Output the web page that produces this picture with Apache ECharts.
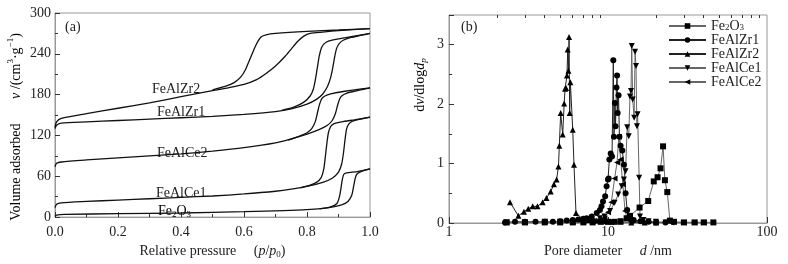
<!DOCTYPE html>
<html>
<head>
<meta charset="utf-8">
<script src="https://cdn.jsdelivr.net/npm/echarts@6/dist/echarts.min.js"></script>
<style>html,body{margin:0;background:#fff}#main{width:788px;height:264px}</style>
</head>
<body>
<div id="main"></div>
<script>
var FONT = 'Liberation Serif';

// (a) isotherms: [p/p0, volume] pairs, adsorption and desorption branches
var zr2Ads = [[0,132],[0.005,140],[0.02,145],[0.1,152],[0.2,160],[0.3,168],[0.4,177],[0.5,186],[0.55,190],[0.6,195],[0.64,202],[0.67,211],[0.7,222],[0.73,236],[0.75,247],[0.77,258],[0.79,266],[0.81,270],[0.85,272],[0.9,274],[1.0,277]];
var zr2Des = [[0.5,187],[0.54,192],[0.57,198],[0.59,206],[0.605,217],[0.615,228],[0.625,239],[0.635,250],[0.645,259],[0.655,265],[0.67,268],[0.7,270],[0.8,273],[0.9,275],[1.0,277]];
var zr1Ads = [[0,130],[0.005,135],[0.02,138],[0.1,140],[0.2,142],[0.3,144],[0.4,146],[0.5,148],[0.6,151],[0.7,155],[0.75,159],[0.8,166],[0.83,173],[0.85,181],[0.865,192],[0.875,205],[0.882,220],[0.888,236],[0.894,248],[0.902,255],[0.915,260],[0.94,264],[0.97,267],[1.0,270]];
var zr1Des = [[0.72,157],[0.76,162],[0.79,169],[0.81,178],[0.82,188],[0.827,203],[0.833,220],[0.839,237],[0.846,249],[0.855,255],[0.87,259],[0.9,262],[0.95,266],[1.0,270]];
var ce2Ads = [[0,74],[0.005,79],[0.02,81],[0.1,84],[0.2,87],[0.3,90],[0.4,93],[0.5,97],[0.6,102],[0.7,109],[0.75,115],[0.8,122],[0.84,129],[0.865,135],[0.88,142],[0.89,152],[0.897,164],[0.903,173],[0.91,178],[0.925,182],[0.96,186],[1.0,190]];
var ce2Des = [[0.74,113],[0.77,118],[0.8,124],[0.815,130],[0.826,140],[0.833,153],[0.84,166],[0.847,174],[0.857,178],[0.875,181],[0.92,185],[1.0,190]];
var ce1Ads = [[0,14],[0.005,19],[0.02,21],[0.1,23],[0.2,25],[0.3,27],[0.4,29],[0.5,31],[0.6,34],[0.7,38],[0.75,41],[0.8,45],[0.85,51],[0.88,57],[0.9,66],[0.91,78],[0.916,95],[0.921,115],[0.926,130],[0.933,137],[0.945,141],[0.97,144],[1.0,147]];
var ce1Des = [[0.78,43],[0.81,47],[0.83,51],[0.845,58],[0.853,70],[0.858,88],[0.863,108],[0.868,124],[0.875,133],[0.885,137],[0.91,140],[0.95,143],[1.0,147]];
var feAds = [[0,1],[0.005,3],[0.03,4],[0.2,5],[0.4,6],[0.6,8],[0.8,11],[0.87,14],[0.91,18],[0.93,23],[0.942,32],[0.948,45],[0.953,57],[0.958,63],[0.968,66],[0.985,69],[1.0,71]];
var feDes = [[0.84,12],[0.875,15],[0.895,20],[0.903,30],[0.908,43],[0.912,55],[0.917,63],[0.925,65],[0.96,67],[1.0,71]];

// (b) pore size distribution: diameter (nm) and dV/dlogd
var feD = [2.3,3,4,5,6,7,8,9,10,11,12,13.1,13.75,15.8,17.9,19.4,20.5,21.4,22.2,22.8,23.6,24.5,26,30,35,40,46];
var feV = [0.01,0.01,0.01,0.01,0.01,0.01,0.01,0.02,0.02,0.02,0.03,0.08,0.12,0.26,0.37,0.70,0.77,0.92,1.29,0.72,0.52,0.04,0.02,0.01,0.01,0.01,0.01];
var zr1D = [2.25,2.6,3,3.5,4,4.5,5,5.5,6,6.5,7,7.34,7.9,8.5,8.9,9.1,9.3,9.6,9.8,10.0,10.1,10.2,10.4,10.6,10.8,10.9,11.05,11.15,11.3,11.4,11.5,11.65,11.8,12.0,12.3,12.6,12.9,13.2,13.7,14.5,16,18,20,23];
var zr1V = [0.01,0.02,0.02,0.02,0.02,0.02,0.03,0.04,0.05,0.06,0.07,0.08,0.11,0.17,0.22,0.28,0.36,0.45,0.62,0.73,0.75,1.07,1.17,1.12,2.74,1.45,2.02,1.63,2.28,2.48,1.85,2.15,1.45,1.30,1.22,0.98,0.50,0.22,0.10,0.05,0.03,0.02,0.01,0.01];
var zr2D = [2.42,2.73,2.96,3.15,3.36,3.6,3.88,4.1,4.36,4.57,4.75,4.88,4.94,5.04,5.19,5.3,5.37,5.45,5.52,5.58,5.64,5.69,5.74,5.8,6.0,6.11,6.29,6.9,7.6,8.5,9.5,10.5,12,14,17,20];
var zr2V = [0.35,0.12,0.19,0.24,0.28,0.28,0.35,0.42,0.53,0.65,0.73,0.95,1.30,1.85,1.49,2.01,2.26,2.27,2.48,2.92,2.56,3.13,1.85,2.37,1.57,0.98,0.17,0.07,0.05,0.04,0.03,0.02,0.02,0.01,0.01,0.01];
var ce1D = [2.3,3,4,5,6,7,8,8.9,9.5,10.3,11.0,11.6,12.2,12.6,12.9,13.2,13.5,13.75,13.95,14.1,14.3,14.6,14.8,15.0,15.2,15.35,15.7,15.9,16.7,18,20,23];
var ce1V = [0.01,0.01,0.02,0.02,0.02,0.02,0.03,0.08,0.11,0.20,0.34,0.48,0.62,0.73,0.87,1.61,1.46,2.13,2.22,2.98,2.08,1.77,2.88,2.64,1.63,1.83,0.76,0.11,0.05,0.03,0.02,0.01];
var ce2D = [2.3,3,4,5,6,7,8,9,9.5,10.0,10.5,11.0,11.4,11.7,12.0,12.4,12.8,13.3,14,16,20,25,30,35,40];
var ce2V = [0.01,0.01,0.02,0.02,0.02,0.03,0.03,0.05,0.08,0.18,0.35,0.75,1.02,1.45,1.07,0.65,0.20,0.06,0.03,0.02,0.01,0.01,0.01,0.01,0.01];

var minorTicksB = [2,3,4,5,6,7,8,9,20,30,40,50,60,70,80,90];

function zip(a, b) { return a.map(function (v, i) { return [v, b[i]]; }); }

var chart = echarts.init(document.getElementById('main'));

var labelStyle = { fontFamily: FONT, fontSize: 14, color: '#222' };
var richBase = {
    n: { fontFamily: FONT, fontSize: 14, color: '#222', lineHeight: 16 },
    i: { fontFamily: FONT, fontSize: 14, color: '#222', fontStyle: 'italic', lineHeight: 16 },
    s: { fontFamily: FONT, fontSize: 9, color: '#222', verticalAlign: 'bottom', lineHeight: 12 },
    si: { fontFamily: FONT, fontSize: 9, color: '#222', fontStyle: 'italic', verticalAlign: 'bottom', lineHeight: 12 },
    p: { fontFamily: FONT, fontSize: 9, color: '#222', verticalAlign: 'top', lineHeight: 20 }
};

function iso(data) {
    return {
        type: 'line', xAxisIndex: 0, yAxisIndex: 0, data: data,
        symbol: 'none', smooth: 0.25, silent: true,
        lineStyle: { color: '#111', width: 1.3 }
    };
}
function psd(name, d, v, sym, rot, col) {
    return {
        name: name, type: 'line', xAxisIndex: 1, yAxisIndex: 1, data: zip(d, v),
        symbol: sym, symbolSize: 6, symbolRotate: rot, silent: true,
        itemStyle: { color: '#000' },
        lineStyle: { color: col, width: 1 }
    };
}

var frame = '#999';
var option = {
    animation: false,
    backgroundColor: '#fff',
    grid: [
        { left: 55, top: 13, width: 315, height: 209, show: true, borderColor: frame, borderWidth: 1 },
        { left: 449, top: 15, width: 318, height: 208, show: true, borderColor: frame, borderWidth: 1 }
    ],
    xAxis: [
        {
            gridIndex: 0, type: 'value', min: 0, max: 1, interval: 0.2,
            axisLine: { lineStyle: { color: frame } },
            axisTick: { inside: true, length: 5, lineStyle: { color: '#333' } },
            minorTick: { show: true, splitNumber: 2, length: 3, lineStyle: { color: '#333' } },
            splitLine: { show: false },
            axisLabel: Object.assign({ margin: 8, formatter: function (v) { return v.toFixed(1); } }, labelStyle),
            name: 'Relative pressure     ({i|p}/{i|p}{s|0})', nameLocation: 'middle', nameGap: 19,
            nameTextStyle: Object.assign({ rich: richBase }, labelStyle)
        },
        {
            gridIndex: 1, type: 'log', logBase: 10, min: 1, max: 100,
            axisLine: { lineStyle: { color: frame } },
            axisTick: { inside: true, length: 6, lineStyle: { color: '#333' } },
            splitLine: { show: false },
            axisLabel: Object.assign({ margin: 2 }, labelStyle),
            name: 'Pore diameter     {i|d} /nm', nameLocation: 'middle', nameGap: 19,
            nameTextStyle: Object.assign({ rich: richBase }, labelStyle)
        },
        {
            gridIndex: 1, type: 'log', logBase: 10, min: 1, max: 100,
            axisLine: { show: false },
            axisTick: { inside: true, length: 3, customValues: minorTicksB, lineStyle: { color: '#333' } },
            axisLabel: { show: false },
            splitLine: { show: false }
        }
    ],
    yAxis: [
        {
            gridIndex: 0, type: 'value', min: 0, max: 300, interval: 60,
            axisLine: { show: true, lineStyle: { color: frame } },
            axisTick: { show: true, inside: true, length: 5, lineStyle: { color: '#333' } },
            minorTick: { show: true, splitNumber: 2, length: 3, lineStyle: { color: '#333' } },
            splitLine: { show: false },
            axisLabel: Object.assign({ margin: 4 }, labelStyle)
        },
        {
            gridIndex: 1, type: 'value', min: 0, max: 3.5, interval: 1,
            axisLine: { show: true, lineStyle: { color: frame } },
            axisTick: { show: true, inside: true, length: 5, lineStyle: { color: '#333' } },
            minorTick: { show: true, splitNumber: 2, length: 3, lineStyle: { color: '#333' } },
            splitLine: { show: false },
            axisLabel: Object.assign({ margin: 5, showMaxLabel: false }, labelStyle)
        }
    ],
    legend: {
        data: ['Fe2O3', 'FeAlZr1', 'FeAlZr2', 'FeAlCe1', 'FeAlCe2'],
        orient: 'vertical', left: 663, top: 14, itemWidth: 37, itemHeight: 7, itemGap: 0,
        textStyle: { fontFamily: FONT, fontSize: 14, color: '#222', lineHeight: 13, rich: {
            n: { fontFamily: FONT, fontSize: 14, color: '#222', lineHeight: 13 },
            s: { fontFamily: FONT, fontSize: 9, color: '#222', verticalAlign: 'bottom', lineHeight: 9 }
        } },
        formatter: function (name) {
            return name === 'Fe2O3' ? '{n|Fe}{s|2}{n|O}{s|3}' : name;
        }
    },
    graphic: [
        { type: 'text', x: 65, y: 27, style: { text: '(a)', fontFamily: FONT, fontSize: 14, fill: '#222', verticalAlign: 'middle' } },
        { type: 'text', x: 461, y: 27, style: { text: '(b)', fontFamily: FONT, fontSize: 14, fill: '#222', verticalAlign: 'middle' } },
        { type: 'text', x: 152, y: 89, style: { text: 'FeAlZr2', fontFamily: FONT, fontSize: 14, fill: '#222', verticalAlign: 'middle' } },
        { type: 'text', x: 157, y: 112, style: { text: 'FeAlZr1', fontFamily: FONT, fontSize: 14, fill: '#222', verticalAlign: 'middle' } },
        { type: 'text', x: 157, y: 153, style: { text: 'FeAlCe2', fontFamily: FONT, fontSize: 14, fill: '#222', verticalAlign: 'middle' } },
        { type: 'text', x: 156, y: 193, style: { text: 'FeAlCe1', fontFamily: FONT, fontSize: 14, fill: '#222', verticalAlign: 'middle' } },
        { type: 'text', x: 158, y: 211, style: { text: '{n|Fe}{s|2}{n|O}{s|3}', rich: richBase, verticalAlign: 'middle' } },
        { type: 'text', x: 16, y: 127, rotation: Math.PI / 2,
          style: { text: '{n|Volume adsorbed       }{i|v}{n| /(cm}{p|3}{n|·g}{p|−1}{n|)}', rich: richBase, align: 'center', verticalAlign: 'middle' } },
        { type: 'text', x: 420, y: 85, rotation: Math.PI / 2,
          style: { text: '{n|d}{i|v}{n|/dlog}{i|d}{si|p}', rich: richBase, align: 'center', verticalAlign: 'middle' } }
    ],
    series: [
        iso(zr2Ads), iso(zr2Des), iso(zr1Ads), iso(zr1Des), iso(ce2Ads), iso(ce2Des),
        iso(ce1Ads), iso(ce1Des), iso(feAds), iso(feDes),
        psd('Fe2O3', feD, feV, 'rect', 0, '#666'),
        psd('FeAlZr1', zr1D, zr1V, 'circle', 0, '#222'),
        psd('FeAlZr2', zr2D, zr2V, 'triangle', 0, '#222'),
        psd('FeAlCe1', ce1D, ce1V, 'triangle', 180, '#666'),
        psd('FeAlCe2', ce2D, ce2V, 'triangle', 90, '#666')
    ]
};
chart.setOption(option);
</script>
</body>
</html>
